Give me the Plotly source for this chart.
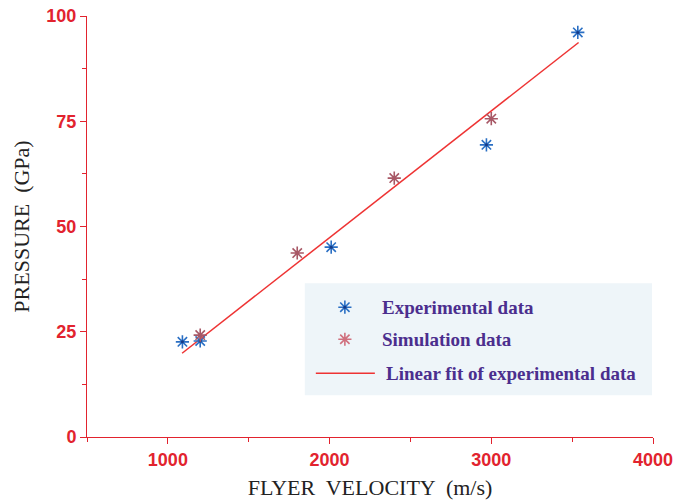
import plotly.graph_objects as go

# Data
exp_velocity = [1090, 1200, 2010, 2970, 3535]
exp_pressure = [22.6, 22.8, 45.1, 69.4, 96.1]
sim_velocity = [1200, 1800, 2400, 3000]
sim_pressure = [24.2, 43.7, 61.5, 75.6]
fit_velocity = [1088, 3540]
fit_pressure = [19.9, 93.7]

x_ticks = [1000, 2000, 3000, 4000]
y_ticks = [0, 25, 50, 75, 100]

RED = "#e2232e"
BLUE = "#2a6fc4"
BLUE_DARK = "#173a86"
SIM = "#a85866"
PURPLE = "#4b2e8e"
SERIF = "Liberation Serif, Times New Roman, serif"
SANS = "Liberation Sans, Arial, sans-serif"


def star(color):
    return dict(symbol="asterisk-open", size=11, color=color, line=dict(color=color, width=1.6))


fig = go.Figure()

fig.add_trace(go.Scatter(
    x=fit_velocity, y=fit_pressure, mode="lines",
    line=dict(color="#ee3333", width=1.5), showlegend=False, hoverinfo="skip"))

fig.add_trace(go.Scatter(
    x=exp_velocity, y=exp_pressure, mode="markers",
    marker=star(BLUE), showlegend=False))
fig.add_trace(go.Scatter(
    x=exp_velocity, y=exp_pressure, mode="markers",
    marker=dict(symbol="circle", size=3, color=BLUE_DARK),
    showlegend=False, hoverinfo="skip"))
fig.add_trace(go.Scatter(
    x=sim_velocity, y=sim_pressure, mode="markers",
    marker=star(SIM), showlegend=False))

# Custom legend (drawn on an invisible overlay axis in 0..1 units)
leg_sym_x = [0.4556, 0.4556]
leg_sym_y = [0.3083, 0.2322]
fig.add_trace(go.Scatter(
    x=leg_sym_x[:1], y=leg_sym_y[:1], xaxis="x2", yaxis="y2", mode="markers",
    marker=star(BLUE), showlegend=False, hoverinfo="skip"))
fig.add_trace(go.Scatter(
    x=leg_sym_x[:1], y=leg_sym_y[:1], xaxis="x2", yaxis="y2", mode="markers",
    marker=dict(symbol="circle", size=3, color=BLUE_DARK),
    showlegend=False, hoverinfo="skip"))
fig.add_trace(go.Scatter(
    x=leg_sym_x[1:], y=leg_sym_y[1:], xaxis="x2", yaxis="y2", mode="markers",
    marker=star("#d0707e"), showlegend=False, hoverinfo="skip"))

shapes = [
    dict(type="rect", xref="paper", yref="paper", x0=0.3848, x1=0.9982, y0=0.0991, y1=0.3653,
         fillcolor="#eef5f9", line=dict(width=0), layer="below"),
    dict(type="line", xref="paper", yref="paper", x0=0.4043, x1=0.5086, y0=0.1514, y1=0.1514,
         line=dict(color="#ee3333", width=1.5)),
]
legend_font = dict(family=SERIF, size=19, color=PURPLE)
annotations = [
    dict(text="<b>Experimental data</b>", x=0.5174, y=0.3083, xref="paper", yref="paper",
         xanchor="left", yanchor="middle", showarrow=False, font=legend_font),
    dict(text="<b>Simulation data</b>", x=0.5174, y=0.2322, xref="paper", yref="paper",
         xanchor="left", yanchor="middle", showarrow=False, font=legend_font),
    dict(text="<b>Linear fit of experimental data</b>", x=0.5245, y=0.1514, xref="paper", yref="paper",
         xanchor="left", yanchor="middle", showarrow=False, font=legend_font),
]

axis_common = dict(
    showgrid=False, zeroline=False, showline=True, linecolor=RED, linewidth=1,
    ticks="outside", ticklen=6, tickwidth=1, tickcolor=RED,
    tickfont=dict(family=SANS, size=18, color=RED, weight="bold"),
    mirror=False, automargin=False,
)

fig.update_layout(
    width=675, height=502,
    margin=dict(l=87, r=22, t=16, b=65),
    paper_bgcolor="white", plot_bgcolor="white",
    xaxis=dict(range=[500, 4000], tickvals=x_ticks,
               minor=dict(tick0=500, dtick=500, ticks="outside", ticklen=4, tickcolor=RED),
               title=dict(text="FLYER  VELOCITY  (m/s)", standoff=11,
                          font=dict(family=SERIF, size=22, color="#222222")),
               **axis_common),
    yaxis=dict(range=[0, 100], tickvals=y_ticks,
               minor=dict(tick0=0, dtick=12.5, ticks="outside", ticklen=4, tickcolor=RED),
               title=dict(text="PRESSURE  (GPa)", standoff=10,
                          font=dict(family=SERIF, size=22, color="#222222")),
               **axis_common),
    xaxis2=dict(overlaying="x", range=[0, 1], visible=False, fixedrange=True),
    yaxis2=dict(overlaying="y", range=[0, 1], visible=False, fixedrange=True),
    shapes=shapes, annotations=annotations, showlegend=False,
)

fig.write_html(
    "out.html",
    config={"displayModeBar": False},
    post_script="document.body.style.margin='0';document.body.style.padding='0';",
)
